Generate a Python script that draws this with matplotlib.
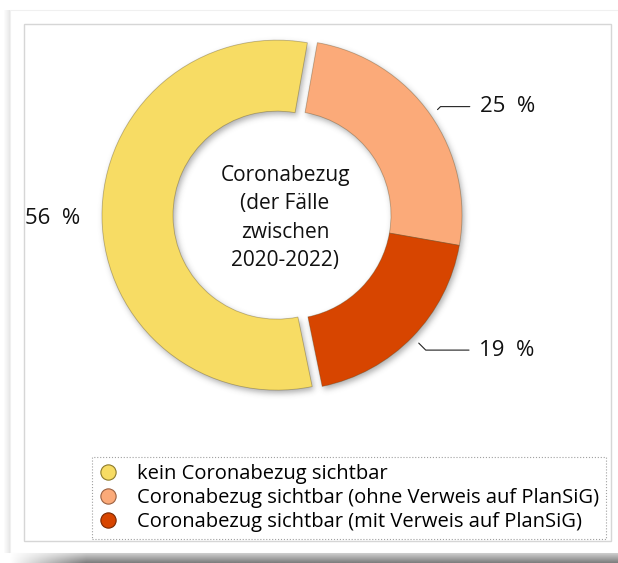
import numpy as np
import matplotlib.pyplot as plt
from matplotlib.lines import Line2D
from matplotlib.patches import Rectangle

# shares of the cases (in %)
categories = ['kein Coronabezug sichtbar',
              'Coronabezug sichtbar (ohne Verweis auf PlanSiG)',
              'Coronabezug sichtbar (mit Verweis auf PlanSiG)']
shares = [56, 25, 19]
colors = ['#F7DC64', '#FBAA79', '#D74500']
edge_colors = ['#8c7a2a', '#9a6040', '#7a2800']
center_title = 'Coronabezug\n(der Fälle\nzwischen\n2020-2022)'

# ring runs clockwise from just right of the top: light, dark, then yellow
ring_order = [1, 2, 0]

plt.rcParams['font.family'] = ['Open Sans', 'DejaVu Sans']

W, H = 618, 563
fig = plt.figure(figsize=(W / 100, H / 100), dpi=100)
ax = fig.add_axes([0, 0, 1, 1])


def soft_shadow(img, dpi, sigma=3.0, dx=2, dy=3, alpha=0.45):
    # gaussian-blurred grey copy of the rendered alpha, shifted down/right
    pad = int(3 * sigma) + 4
    a = np.pad(img[..., 3], pad)
    k = np.exp(-0.5 * (np.arange(-int(3 * sigma), int(3 * sigma) + 1) / sigma) ** 2)
    k /= k.sum()
    a = np.apply_along_axis(lambda r: np.convolve(r, k, 'same'), 0, a)
    a = np.apply_along_axis(lambda r: np.convolve(r, k, 'same'), 1, a)
    out = np.zeros(a.shape + (4,))
    out[..., :3] = 0.3
    out[..., 3] = np.clip(a * alpha, 0, 1)
    return out, -pad + dx, -pad - dy


# paper and panel
ax.add_patch(Rectangle((10, 10), W, H - 20, facecolor='white',
                       edgecolor='#f0f0f0', lw=0.8, zorder=0))
for i in range(6):
    ax.add_patch(Rectangle((4 + i, 10), 1, H - 20, facecolor='#000000',
                           alpha=0.015 * (i + 1), lw=0, zorder=0))
band = np.linspace(0.80, 0.50, 10)[:, None] * np.ones((1, W))
fade = np.clip(np.linspace(0, 1, W) * 8, 0, 1)
band = 1 - (1 - band) * fade[None, :]
ax.imshow(band, cmap='gray', vmin=0, vmax=1, extent=(10, W, 0, 10),
          aspect='auto', zorder=0)
ax.add_patch(Rectangle((24, H - 541), 611 - 24, 541 - 24, facecolor='white',
                       edgecolor='#d6d6d6', lw=1.0, zorder=1))

# donut
cx, cy, R, ring_w = 287, H - 215, 175, 71
vals = [shares[i] for i in ring_order]
cols = [colors[i] for i in ring_order]
explode = [0, 0, 10]
start = 80

shadow_wedges, _ = ax.pie(vals, colors=['#555555'] * 3, startangle=start,
                          counterclock=False, radius=R, center=(cx, cy),
                          explode=explode, wedgeprops=dict(width=ring_w, lw=0))
for w in shadow_wedges:
    w.set_agg_filter(soft_shadow)
    w.set_zorder(2)

wedges, _ = ax.pie(vals, colors=cols, startangle=start, counterclock=False,
                   radius=R, center=(cx, cy), explode=explode,
                   wedgeprops=dict(width=ring_w, edgecolor=(0.3, 0.25, 0.1, 0.35),
                                   lw=0.6))
for w in wedges:
    w.set_zorder(3)

# value labels
theta1 = start
mids = []
for v in vals:
    theta2 = theta1 - 360 * v / sum(vals)
    mids.append(np.deg2rad((theta1 + theta2) / 2))
    theta1 = theta2

label_style = dict(fontsize=16, color='#111111', zorder=5)
text_offsets = [(42, 3, 45), (60, -7, -45)]
for k in range(2):
    ax_x = cx + 1.05 * R * np.cos(mids[k])
    ax_y = cy + 1.05 * R * np.sin(mids[k])
    dx, dy, ang = text_offsets[k]
    ax.annotate(f'{vals[k]}  %', xy=(ax_x, ax_y), xytext=(ax_x + dx, ax_y + dy),
                ha='left', va='center',
                arrowprops=dict(arrowstyle='-', color='#222222', lw=0.8,
                                shrinkA=5, shrinkB=0,
                                connectionstyle=f'angle,angleA=0,angleB={ang},rad=0'),
                **label_style)
ycx = cx + explode[2] * np.cos(mids[2])
ycy = cy + explode[2] * np.sin(mids[2])
ax.text(ycx + 1.28 * R * np.cos(mids[2]), ycy + 1.28 * R * np.sin(mids[2]),
        f'{vals[2]}  %', ha='center', va='center', **label_style)

ax.text(cx - 2, cy - 3, center_title, ha='center', va='center', fontsize=15,
        linespacing=1.45, color='#111111', zorder=5)

# legend
handles = [Line2D([], [], ls='none', marker='o', markersize=11,
                  markerfacecolor=c, markeredgecolor=e, markeredgewidth=0.8)
           for c, e in zip(colors, edge_colors)]
leg = ax.legend(handles, categories, loc='upper left',
                bbox_to_anchor=(92, H - 457), bbox_transform=ax.transData,
                fontsize=14.5, frameon=True, fancybox=False, borderpad=0.35,
                labelspacing=0.2, handlelength=0.9, handletextpad=1.0,
                borderaxespad=0)
frame = leg.get_frame()
frame.set_edgecolor('#888888')
frame.set_linestyle(':')
frame.set_linewidth(0.8)
leg.set_zorder(6)

ax.set_xlim(0, W)
ax.set_ylim(0, H)
ax.set_aspect('auto')
ax.axis('off')

fig.savefig('out.png', dpi=100, facecolor='white')
